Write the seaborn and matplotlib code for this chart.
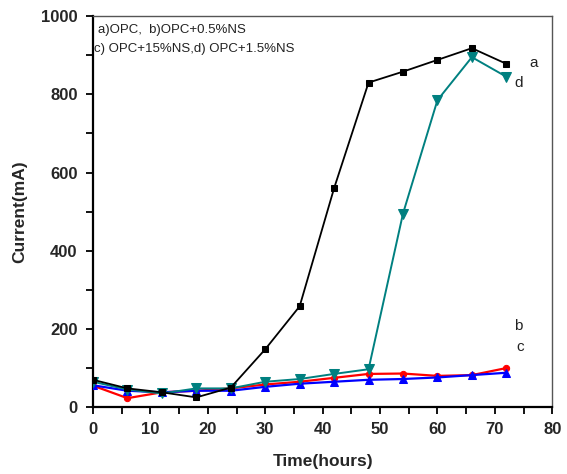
import matplotlib
matplotlib.use("Agg")
import matplotlib.pyplot as plt
import seaborn as sns
import pandas as pd
from matplotlib.ticker import MultipleLocator

# Corrosion current vs time for the four mixes
time_h = [0, 6, 12, 18, 24, 30, 36, 42, 48, 54, 60, 66, 72]
opc = [70, 48, 38, 25, 50, 148, 258, 560, 830, 858, 888, 918, 878]            # a
opc_05ns = [55, 23, 38, 42, 48, 58, 65, 75, 85, 86, 80, 82, 100]             # b
opc_15ns = [56, 42, 38, 42, 42, 52, 60, 65, 70, 72, 76, 82, 88]              # c
opc_15pct = [65, 45, 35, 48, 48, 65, 72, 85, 97, 495, 785, 895, 845]         # d

series_names = ["a", "b", "c", "d"]
series_values = [opc, opc_05ns, opc_15ns, opc_15pct]

df = pd.DataFrame({
    "Time": time_h * len(series_names),
    "Current": sum(series_values, []),
    "Series": [n for n in series_names for _ in time_h],
})

sns.set_style("white")
plt.rcParams["font.family"] = ["Liberation Sans", "DejaVu Sans"]

fig = plt.figure(figsize=(5.67, 4.74), dpi=100)
ax = fig.add_axes([0.164, 0.141, 0.81, 0.825])

styles = {
    "a": dict(color="black", marker="s", markersize=5, lw=1.3),
    "b": dict(color="#ff0000", marker="o", markersize=4.5, lw=1.6),
    "c": dict(color="#0000ff", marker="^", markersize=5.5, lw=1.6),
    "d": dict(color="#008080", marker="v", markersize=6.5, lw=1.4),
}
draw_order = ["b", "c", "d", "a"]
for name in draw_order:
    st = styles[name]
    sns.lineplot(data=df[df["Series"] == name], x="Time", y="Current", ax=ax,
                 color=st["color"], marker=st["marker"], markersize=st["markersize"],
                 markeredgecolor=st["color"], linewidth=st["lw"], legend=False,
                 zorder=3 if name != "a" else 4)

ax.set_xlim(0, 80)
ax.set_ylim(0, 1000)
ax.xaxis.set_major_locator(MultipleLocator(10))
ax.xaxis.set_minor_locator(MultipleLocator(5))
ax.yaxis.set_major_locator(MultipleLocator(200))
ax.yaxis.set_minor_locator(MultipleLocator(100))
ax.tick_params(axis="both", which="both", direction="out", length=5, width=1.3,
               color="black", bottom=True, left=True, top=False, right=False)
ax.tick_params(axis="both", which="major", labelsize=12, pad=6)
for lbl in ax.get_xticklabels() + ax.get_yticklabels():
    lbl.set_fontweight("bold")

ax.set_xlabel("Time(hours)", fontsize=12.5, fontweight="bold", labelpad=12)
ax.set_ylabel("Current(mA)", fontsize=12.5, fontweight="bold", labelpad=10)

for side in ["left", "bottom"]:
    ax.spines[side].set_linewidth(1.6)
    ax.spines[side].set_color("black")
for side in ["top", "right"]:
    ax.spines[side].set_linewidth(1.0)
    ax.spines[side].set_color("#555555")

ax.text(0.8, 965, "a)OPC,  b)OPC+0.5%NS", fontsize=9.5, color="#222222", va="center")
ax.text(0.2, 915, "c) OPC+15%NS,d) OPC+1.5%NS", fontsize=9.5, color="#222222", va="center")

ax.text(76.0, 880, "a", fontsize=11, color="#222222", va="center", ha="left")
ax.text(73.4, 830, "d", fontsize=11, color="#222222", va="center", ha="left")
ax.text(73.3, 207, "b", fontsize=11, color="#222222", va="center", ha="left")
ax.text(73.7, 155, "c", fontsize=11, color="#222222", va="center", ha="left")

fig.savefig("out.png", dpi=100)
